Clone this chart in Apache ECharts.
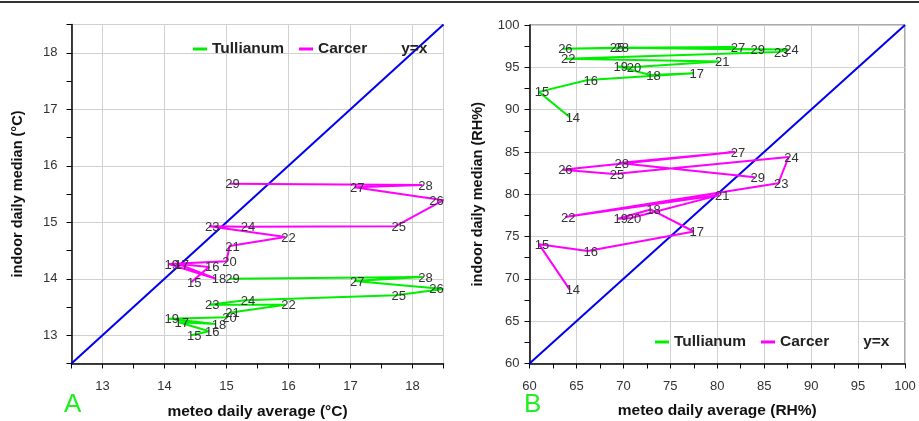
<!DOCTYPE html>
<html>
<head>
<meta charset="utf-8">
<script src="https://cdn.jsdelivr.net/npm/echarts@6/dist/echarts.min.js"></script>
<style>
  html, body { margin: 0; padding: 0; background: #fff; }
  #chart { width: 919px; height: 421px; }
</style>
</head>
<body>
<div id="chart"></div>
<script>
// A: temperature, days of the month
const tempDays = [15, 16, 17, 18, 19, 20, 21, 22, 23, 24, 25, 26, 27, 28, 29];
const tempMeteo = [14.43, 14.72, 14.23, 14.83, 14.07, 15.0, 15.05, 15.95, 14.72, 15.3, 17.73, 18.5, 17.06, 18.16, 15.05];
const tempTullianum = [13.0, 13.07, 13.23, 13.2, 13.29, 13.32, 13.4, 13.54, 13.54, 13.62, 13.71, 13.82, 13.96, 14.03, 14.0];
const tempCarcer = [13.94, 14.21, 14.26, 14.0, 14.26, 14.31, 14.58, 14.74, 14.93, 14.92, 14.93, 15.39, 15.62, 15.66, 15.68];

// B: relative humidity
const rhDays = [14, 15, 16, 17, 18, 19, 20, 21, 22, 23, 24, 25, 26, 27, 28, 29];
const rhMeteo = [64.3, 61.0, 66.2, 77.5, 72.9, 69.4, 70.8, 80.2, 63.8, 86.5, 87.6, 69.0, 63.5, 81.9, 69.5, 84.0];
const rhTullianum = [89.1, 92.1, 93.5, 94.3, 94.1, 95.1, 95.0, 95.7, 96.0, 96.8, 97.1, 97.3, 97.2, 97.4, 97.3, 97.1];
const rhCarcer = [68.7, 74.1, 73.3, 75.6, 78.2, 77.1, 77.2, 79.9, 77.3, 81.3, 84.4, 82.4, 82.9, 85.0, 83.7, 82.0];

const tempRange = [12.5, 18.5];
const rhRange = [60, 100];

const FONT = "'Liberation Sans', Arial, sans-serif";
const GREEN = '#00ee00';
const MAGENTA = '#ff00ff';
const BLUE = '#0000ee';

const chart = echarts.init(document.getElementById('chart'));

// points sitting on the right border get their label pulled inside
const points = (days, xs, ys, range) => days.map((d, i) => {
    const item = { value: [xs[i], ys[i], d] };
    if (xs[i] >= range[1]) item.label = { offset: [-7, 1] };
    return item;
});

const dataSeries = (name, color, gi, data) => ({
    name: name,
    type: 'line',
    xAxisIndex: gi * 2,
    yAxisIndex: gi * 2,
    data: data,
    symbol: 'circle',
    symbolSize: 0,
    showSymbol: true,
    clip: true,
    z: 4,
    lineStyle: { color: color, width: 2 },
    itemStyle: { color: color },
    label: {
        show: true,
        position: 'inside',
        offset: [3, 1],
        formatter: p => p.value[2],
        color: '#333',
        fontSize: 13,
        fontFamily: FONT
    }
});

const diagSeries = (gi, range) => ({
    name: 'y=x',
    type: 'line',
    xAxisIndex: gi * 2,
    yAxisIndex: gi * 2,
    data: [[range[0], range[0]], [range[1], range[1]]],
    symbol: 'none',
    z: 3,
    lineStyle: { color: BLUE, width: 2 },
    itemStyle: { color: BLUE }
});

const mainAxis = (gi, range, step, name, nameGap, margin, nameSize) => ({
    gridIndex: gi,
    type: 'value',
    min: range[0],
    max: range[1],
    interval: step,
    name: name,
    nameLocation: 'middle',
    nameGap: nameGap,
    nameTextStyle: { fontWeight: 'bold', fontSize: nameSize, color: '#111', fontFamily: FONT },
    axisLine: { onZero: false, lineStyle: { color: '#000', width: 1.5 } },
    axisTick: { length: 5, lineStyle: { color: '#000' } },
    axisLabel: {
        color: '#333',
        fontSize: 13,
        fontFamily: FONT,
        margin: margin,
        formatter: v => (v % (step * 2) === 0 ? String(v) : '')
    },
    splitLine: { show: false }
});

// second axis only for the grid lines on the labelled values
const gridAxis = (gi, range, splitNumber) => ({
    gridIndex: gi,
    type: 'value',
    min: range[0],
    max: range[1],
    splitNumber: splitNumber,
    axisLine: { show: false },
    axisTick: { show: false },
    axisLabel: { show: false },
    splitLine: { show: true, lineStyle: { color: '#d0d0d0', width: 1 } }
});

const legend = (left, top) => ({
    left: left,
    top: top,
    padding: 0,
    icon: 'rect',
    itemWidth: 14,
    itemHeight: 3,
    itemGap: 15,
    selectedMode: false,
    data: [{ name: 'Tullianum' }, { name: 'Carcer' }, { name: 'y=x', icon: 'none' }],
    textStyle: { fontWeight: 'bold', fontSize: 15.5, color: '#222', fontFamily: FONT }
});

chart.setOption({
    animation: false,
    backgroundColor: '#fff',
    grid: [
        { left: 71.5, top: 24.5, width: 372, height: 339, show: true, borderColor: '#555', borderWidth: 1, outerBoundsMode: 'none' },
        { left: 529.5, top: 25, width: 375.5, height: 338.5, show: true, borderColor: '#555', borderWidth: 1, outerBoundsMode: 'none' }
    ],
    xAxis: [
        mainAxis(0, tempRange, 0.5, 'meteo daily average (°C)', 40.5, 16, 15.5),
        gridAxis(0, tempRange, 6),
        mainAxis(1, rhRange, 2.5, 'meteo daily average (RH%)', 39, 16, 15.5),
        gridAxis(1, rhRange, 8)
    ],
    yAxis: [
        mainAxis(0, tempRange, 0.5, 'indoor daily median (°C)', 46, 14, 14.5),
        gridAxis(0, tempRange, 6),
        mainAxis(1, rhRange, 2.5, 'indoor daily median (RH%)', 44, 10, 14.5),
        gridAxis(1, rhRange, 8)
    ],
    legend: [legend(193, 41), legend(655, 334)],
    series: [
        diagSeries(0, tempRange),
        dataSeries('Tullianum', GREEN, 0, points(tempDays, tempMeteo, tempTullianum, tempRange)),
        dataSeries('Carcer', MAGENTA, 0, points(tempDays, tempMeteo, tempCarcer, tempRange)),
        diagSeries(1, rhRange),
        dataSeries('Tullianum', GREEN, 1, points(rhDays, rhMeteo, rhTullianum, rhRange)),
        dataSeries('Carcer', MAGENTA, 1, points(rhDays, rhMeteo, rhCarcer, rhRange))
    ],
    graphic: [
        { type: 'rect', shape: { x: 0, y: 1, width: 919, height: 2 }, style: { fill: '#333' } },
        { type: 'text', left: 64, top: 392, style: { text: 'A', fontSize: 26, fill: '#22ee22', fontFamily: FONT } },
        { type: 'text', left: 524, top: 392, style: { text: 'B', fontSize: 26, fill: '#22ee22', fontFamily: FONT } }
    ]
});
</script>
</body>
</html>
